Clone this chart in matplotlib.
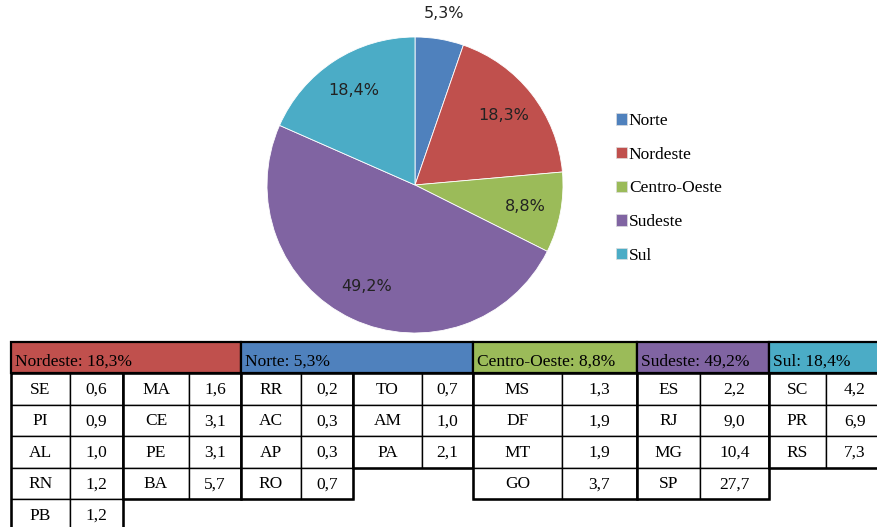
import matplotlib
matplotlib.use('Agg')
import matplotlib.pyplot as plt
from matplotlib.patches import Rectangle, Patch

# regional shares (pie)
regioes = ['Norte', 'Nordeste', 'Centro-Oeste', 'Sudeste', 'Sul']
participacao = [5.3, 18.3, 8.8, 49.2, 18.4]
cores = ['#4F81BD', '#C0504D', '#9BBB59', '#8064A2', '#4BACC6']

# state shares (table), order as in the table
nordeste_uf = ['SE', 'PI', 'AL', 'RN', 'PB', 'MA', 'CE', 'PE', 'BA']
nordeste_val = [0.6, 0.9, 1.0, 1.2, 1.2, 1.6, 3.1, 3.1, 5.7]
norte_uf = ['RR', 'AC', 'AP', 'RO', 'TO', 'AM', 'PA']
norte_val = [0.2, 0.3, 0.3, 0.7, 0.7, 1.0, 2.1]
centro_uf = ['MS', 'DF', 'MT', 'GO']
centro_val = [1.3, 1.9, 1.9, 3.7]
sudeste_uf = ['ES', 'RJ', 'MG', 'SP']
sudeste_val = [2.2, 9.0, 10.4, 27.7]
sul_uf = ['SC', 'PR', 'RS']
sul_val = [4.2, 6.9, 7.3]


def virgula(v, fmt='{:.1f}'):
    return fmt.format(v).replace('.', ',')


fig = plt.figure(figsize=(8.78, 5.27), dpi=100)

# ---- pie ----
W, H = 878.0, 527.0
cx, cy, r = 415, 185, 148
ax = fig.add_axes([(cx - r) / W, (H - cy - r) / H, 2 * r / W, 2 * r / H])
wedges, texts, autotexts = ax.pie(participacao, colors=cores, startangle=90, counterclock=False,
                                  autopct=lambda p: virgula(p) + '%', pctdistance=0.76,
                                  wedgeprops=dict(edgecolor='white', linewidth=0.6),
                                  textprops=dict(family='DejaVu Sans', fontsize=11.5, color='#222222'))
# small slice label goes outside, like Excel does
for w, t, p in zip(wedges, autotexts, participacao):
    if p < 6:
        x, y = t.get_position()
        t.set_position((x * 1.55, y * 1.55))
ax.set_xlim(-1, 1)
ax.set_ylim(-1, 1)
ax.set_aspect('auto')

handles = [Patch(facecolor=c, edgecolor='#dddddd', linewidth=0.5) for c in cores]
fig.legend(handles, regioes, loc='upper left', bbox_to_anchor=(616 / W, 1 - 113 / H),
           frameon=False, handlelength=0.62, handleheight=0.62, handletextpad=0.12,
           labelspacing=1.02, borderpad=0, borderaxespad=0,
           prop=dict(family='Liberation Serif', size=12.5))

# ---- table ----
tab = fig.add_axes([0, 0, 1, 1])
tab.set_xlim(0, W)
tab.set_ylim(H, 0)
tab.axis('off')

blocos = [
    ('Nordeste', nordeste_uf, nordeste_val, [11, 70, 123, 189, 241]),
    ('Norte', norte_uf, norte_val, [241, 301, 353, 422, 473]),
    ('Centro-Oeste', centro_uf, centro_val, [473, 562, 637]),
    ('Sudeste', sudeste_uf, sudeste_val, [637, 700, 769]),
    ('Sul', sul_uf, sul_val, [769, 826, 884]),
]
topo, h_cab, h_lin = 342, 31, 31.5
serif = 'Liberation Serif'

for nome, ufs, vals, xs in blocos:
    i = regioes.index(nome)
    tab.add_patch(Rectangle((xs[0], topo), xs[-1] - xs[0], h_cab, facecolor=cores[i],
                            edgecolor='black', linewidth=1.6))
    tab.text(xs[0] + 4, topo + h_cab / 2 + 4, '%s: %s%%' % (nome, virgula(participacao[i])),
             ha='left', va='center', family=serif, fontsize=12.5)
    npares = (len(xs) - 1) // 2
    por_col = -(-len(ufs) // npares)
    for k in range(npares):
        x0, x1, x2 = xs[2 * k], xs[2 * k + 1], xs[2 * k + 2]
        uf_k = ufs[k * por_col:(k + 1) * por_col]
        val_k = vals[k * por_col:(k + 1) * por_col]
        for j, (uf, v) in enumerate(zip(uf_k, val_k)):
            y0 = topo + h_cab + j * h_lin
            tab.add_patch(Rectangle((x0, y0), x1 - x0, h_lin, facecolor='white',
                                    edgecolor='black', linewidth=1.0))
            tab.add_patch(Rectangle((x1, y0), x2 - x1, h_lin, facecolor='white',
                                    edgecolor='black', linewidth=1.0))
            tab.text((x0 + x1) / 2, y0 + h_lin / 2 + 1, uf, ha='center', va='center',
                     family=serif, fontsize=12.5)
            tab.text((x1 + x2) / 2, y0 + h_lin / 2 + 1, virgula(v), ha='center', va='center',
                     family=serif, fontsize=12.5)
        tab.add_patch(Rectangle((x0, topo + h_cab), x2 - x0, len(uf_k) * h_lin, fill=False,
                                edgecolor='black', linewidth=1.8))

fig.savefig('out.png', dpi=100)
